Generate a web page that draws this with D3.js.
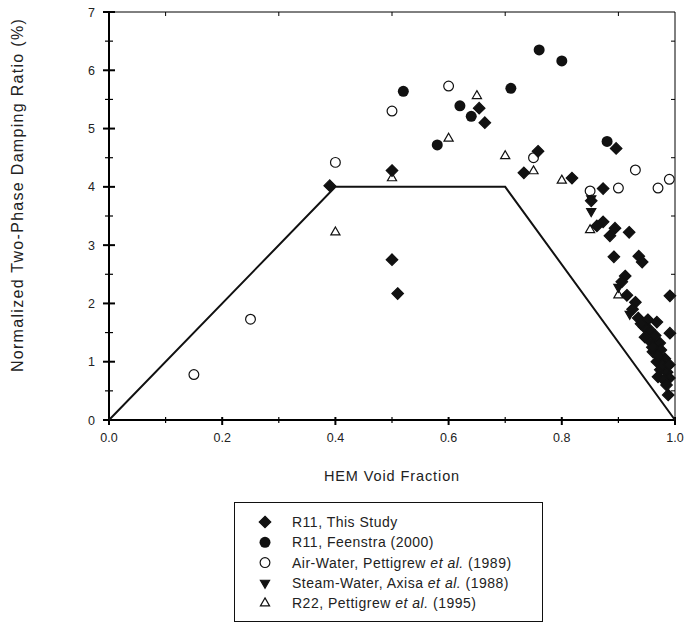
<!DOCTYPE html>
<html><head><meta charset="utf-8">
<script src="https://cdn.jsdelivr.net/npm/d3@7"></script>
<style>body{margin:0;background:#fff}svg{font-family:"Liberation Sans",Arial,sans-serif}</style>
</head><body><svg id="c" width="687" height="624"></svg>
<script>
// Data (HEM void fraction, normalized damping ratio %)
const r11ThisStudy = [
 [0.39,4.02],[0.50,4.28],[0.50,2.75],[0.51,2.17],[0.654,5.35],[0.664,5.10],
 [0.733,4.24],[0.758,4.61],[0.818,4.15],[0.873,3.97],[0.896,4.66],[0.852,3.76],
 [0.873,3.40],[0.862,3.33],[0.894,3.29],[0.885,3.16],[0.919,3.22],[0.892,2.80],
 [0.936,2.81],[0.942,2.71],[0.912,2.47],[0.906,2.37],[0.991,2.13],[0.915,2.14],
 [0.930,2.02],[0.935,1.75],[0.952,1.72],[0.968,1.68],[0.991,1.49],[0.947,1.42],
 [0.959,1.32],[0.973,1.32],[0.961,1.17],[0.968,1.00],[0.974,0.86],[0.970,0.74],
 [0.986,0.82],[0.990,0.72],[0.988,0.43],[0.980,0.69],[0.955,1.55],[0.965,1.45],
 [0.945,1.60],[0.975,1.20],[0.982,1.05],[0.978,0.95],[0.960,1.25],[0.985,0.60],
 [0.925,1.90],[0.940,1.65],[0.970,1.10],[0.990,0.95]
];
const r11Feenstra = [
 [0.52,5.64],[0.76,6.35],[0.80,6.16],[0.71,5.69],[0.62,5.39],[0.64,5.21],[0.58,4.72],[0.88,4.78]
];
const airWater = [
 [0.15,0.78],[0.25,1.73],[0.40,4.42],[0.50,5.30],[0.60,5.73],[0.75,4.50],[0.85,3.93],
 [0.90,3.98],[0.93,4.29],[0.97,3.98],[0.99,4.13]
];
const steamWater = [
 [0.852,3.80],[0.852,3.58],[0.90,2.28],[0.92,1.82]
];
const r22 = [
 [0.40,3.22],[0.50,4.15],[0.60,4.83],[0.65,5.56],[0.70,4.53],[0.75,4.27],[0.80,4.11],
 [0.85,3.26],[0.90,2.14]
];
const limitLine = [[0,0],[0.4,4],[0.7,4],[1,0]];
const xTickLabels = ["0.0","0.2","0.4","0.6","0.8","1.0"];
const yTickLabels = ["0","1","2","3","4","5","6","7"];
const legendLabels = [
 ["R11, This Study"],["R11, Feenstra (2000)"],["Air-Water, Pettigrew ","et al.",". (1989)"],
 ["Steam-Water, Axisa ","et al.",". (1988)"],["R22, Pettigrew ","et al.",". (1995)"]
];

const svg = d3.select("#c");
const x = d3.scaleLinear().domain([0,1]).range([109,675]);
const y = d3.scaleLinear().domain([0,7]).range([420,12]);

// frame
svg.append("line").attr("x1",x(0)).attr("x2",x(1)).attr("y1",y(7)).attr("y2",y(7)).attr("stroke","#000").attr("stroke-width",1);
svg.append("line").attr("x1",x(1)).attr("x2",x(1)).attr("y1",y(0)).attr("y2",y(7)).attr("stroke","#000").attr("stroke-width",1);
svg.append("line").attr("x1",x(0)).attr("x2",x(0)).attr("y1",y(0)+1).attr("y2",y(7)).attr("stroke","#000").attr("stroke-width",2);
svg.append("line").attr("x1",x(0)-1).attr("x2",x(1)).attr("y1",y(0)).attr("y2",y(0)).attr("stroke","#000").attr("stroke-width",2);

const g = svg.append("g");
// left ticks
d3.range(0,7.01,0.5).forEach(v=>{
  const major = Math.abs(v-Math.round(v))<1e-6;
  const L = major?6:4;
  g.append("line").attr("x1",x(0)-L).attr("x2",x(0)+L).attr("y1",y(v)).attr("y2",y(v)).attr("stroke","#000").attr("stroke-width",major?2:1.2);
});
// right ticks (inward) at half values
d3.range(0.5,7,1).forEach(v=>{
  g.append("line").attr("x1",x(1)-4).attr("x2",x(1)).attr("y1",y(v)).attr("y2",y(v)).attr("stroke","#000").attr("stroke-width",1);
});
// bottom ticks
d3.range(0,10.01,1).forEach(i=>{
  const v=i/10, major=i%2===0;
  g.append("line").attr("x1",x(v)).attr("x2",x(v)).attr("y1",y(0)-3).attr("y2",y(0)+(major?5:3)).attr("stroke","#000").attr("stroke-width",major?2:1.2);
});
// top ticks inward at odd tenths
[1,3,5,7,9].forEach(i=>{
  g.append("line").attr("x1",x(i/10)).attr("x2",x(i/10)).attr("y1",y(7)).attr("y2",y(7)+4).attr("stroke","#000").attr("stroke-width",1);
});
// tick labels
xTickLabels.forEach((t,i)=>{
  svg.append("text").attr("x",x(i*0.2)).attr("y",y(0)+22).attr("text-anchor","middle").attr("font-size",12.5).attr("fill","#222").text(t);
});
yTickLabels.forEach((t,i)=>{
  svg.append("text").attr("x",x(0)-14).attr("y",y(i)+4.5).attr("text-anchor","end").attr("font-size",12.5).attr("fill","#222").text(t);
});
// axis titles
svg.append("text").attr("x",392).attr("y",481).attr("text-anchor","middle").attr("font-size",14.5).attr("letter-spacing","0.9px").attr("fill","#222").text("HEM Void Fraction");
svg.append("text").attr("transform","translate(23,195) rotate(-90)").attr("text-anchor","middle").attr("font-size",16).attr("letter-spacing","1.3px").attr("fill","#222").text("Normalized Two-Phase Damping Ratio (%)");

// limit line
svg.append("path").attr("d",d3.line().x(d=>x(d[0])).y(d=>y(d[1]))(limitLine)).attr("fill","none").attr("stroke","#111").attr("stroke-width",2);

// markers
const sym = {
  diamond: d3.symbol().type(d3.symbolDiamond2).size(85),
  circle: d3.symbol().type(d3.symbolCircle).size(95),
  ocircle: d3.symbol().type(d3.symbolCircle).size(75),
  tri: d3.symbol().type(d3.symbolTriangle2).size(60),
};
function pts(data, s, fill, stroke, rot){
  svg.append("g").selectAll("path").data(data).join("path")
    .attr("transform",d=>`translate(${x(d[0])},${y(d[1])})${rot?` rotate(${rot})`:""}`)
    .attr("d",s).attr("fill",fill).attr("stroke",stroke).attr("stroke-width",1.2);
}
pts(r22, sym.tri, "#fff", "#111", 0);
pts(r11Feenstra, sym.circle, "#111", "none");
pts(airWater, sym.ocircle, "#fff", "#111");
pts(steamWater, sym.tri, "#111", "#111", 180);
pts(r11ThisStudy, sym.diamond, "#111", "#111");

// legend
svg.append("rect").attr("x",234.5).attr("y",502.5).attr("width",308).attr("height",119).attr("fill","none").attr("stroke","#111").attr("stroke-width",1);
const legSym = [[sym.diamond,"#111","#111",0],[sym.circle,"#111","none",0],[sym.ocircle,"#fff","#111",0],[sym.tri,"#111","#111",180],[sym.tri,"#fff","#111",0]];
legendLabels.forEach((parts,i)=>{
  const yy = 522 + i*20.3;
  const s = legSym[i];
  svg.append("path").attr("transform",`translate(265,${yy})${s[3]?` rotate(${s[3]})`:""}`).attr("d",s[0]).attr("fill",s[1]).attr("stroke",s[2]).attr("stroke-width",1.2);
  const t = svg.append("text").attr("x",292).attr("y",yy+5).attr("font-size",14).attr("letter-spacing","0.5px").attr("fill","#222");
  parts.forEach((p,j)=>{
    const ts = t.append("tspan").text(j===2?p.slice(1):p);
    if(j===1) ts.attr("font-style","italic");
  });
});
</script></body></html>
